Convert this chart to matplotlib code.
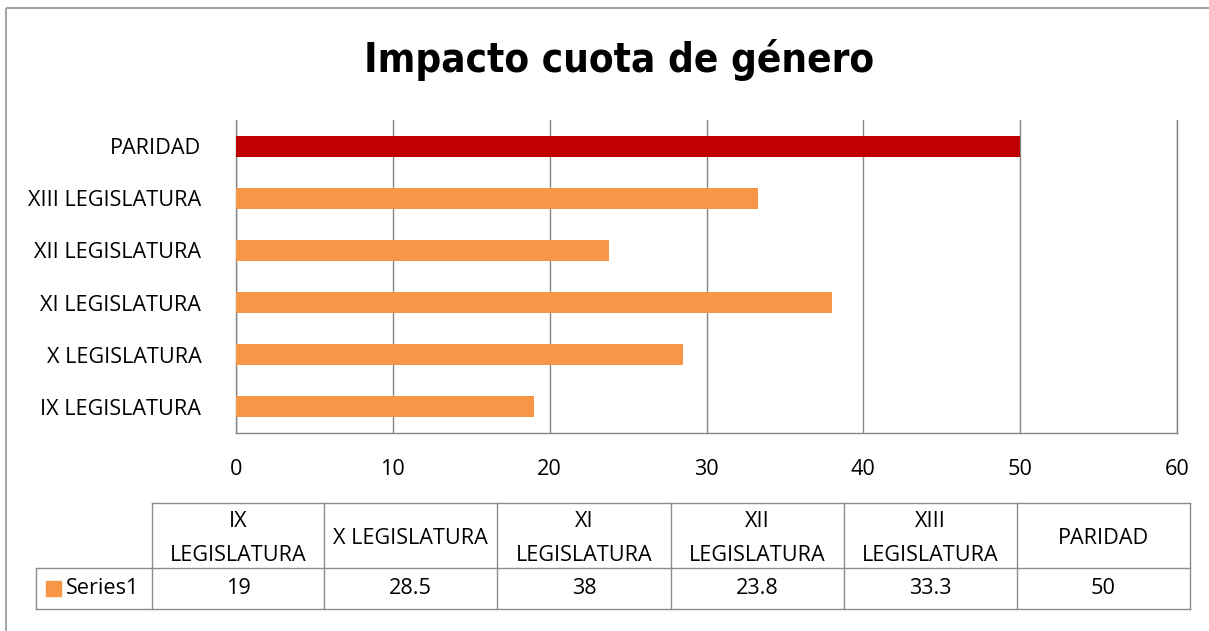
import matplotlib
matplotlib.use("Agg")
import matplotlib.pyplot as plt
from matplotlib import font_manager as fm
from matplotlib.patches import Rectangle

# datos
categorias = ["IX LEGISLATURA", "X LEGISLATURA", "XI LEGISLATURA",
              "XII LEGISLATURA", "XIII LEGISLATURA", "PARIDAD"]
encabezados = ["IX\nLEGISLATURA", "X LEGISLATURA", "XI\nLEGISLATURA",
               "XII\nLEGISLATURA", "XIII\nLEGISLATURA", "PARIDAD"]
valores = [19, 28.5, 38, 23.8, 33.3, 50]
etiquetas_tabla = ["19", "28.5", "38", "23.8", "33.3", "50"]
serie = "Series1"
titulo = "Impacto cuota de género"
x_ticks = [0, 10, 20, 30, 40, 50, 60]

NARANJA = "#F79646"
ROJO = "#C00000"
GRIS = "#868686"
FS = 15.6

plt.rcParams["font.family"] = ["Open Sans", "DejaVu Sans"]


def fuente_titulo():
    # buscar una fuente estrecha en negrita para el título
    for nombre in ["DejaVuSansCondensed-Bold", "LiberationSansNarrow-Bold"]:
        for f in fm.findSystemFonts():
            if f.split("/")[-1].startswith(nombre + "."):
                return fm.FontProperties(fname=f, size=29)
    return fm.FontProperties(family="DejaVu Sans", weight="bold", size=29)


W, H = 1209, 631
fig = plt.figure(figsize=(W / 100, H / 100), dpi=100)

# area del gráfico (en pixeles)
x0, x1, y0, y1 = 236, 1177, 120, 433
ax = fig.add_axes([x0 / W, 1 - y1 / H, (x1 - x0) / W, (y1 - y0) / H])

colores = [NARANJA] * (len(valores) - 1) + [ROJO]
pos = range(len(categorias))
ax.barh(pos, valores, height=0.4, color=colores, zorder=3)
ax.set_xlim(0, 60)
ax.set_ylim(-0.5, len(categorias) - 0.5)
ax.set_xticks(x_ticks)
ax.set_yticks(list(pos))
ax.set_yticklabels(categorias)
ax.tick_params(axis="both", length=0, labelsize=FS, colors="black")
ax.tick_params(axis="y", pad=25)
ax.tick_params(axis="x", pad=19)
ax.grid(axis="x", color=GRIS, linewidth=1, zorder=0)
ax.spines["top"].set_visible(False)
for lado in ["left", "bottom", "right"]:
    ax.spines[lado].set_color(GRIS)
    ax.spines[lado].set_linewidth(1)

# capa en pixeles para título, tabla y borde
capa = fig.add_axes([0, 0, 1, 1])
capa.set_xlim(0, W)
capa.set_ylim(H, 0)
capa.axis("off")

capa.add_patch(Rectangle((6, 8), W, H, fill=False, edgecolor="#A6A6A6", linewidth=1.5))
capa.text(619, 60, titulo, ha="center", va="center", fontproperties=fuente_titulo())

# tabla de datos
cols = [152, 324, 497, 671, 844, 1017, 1190]
lab_x = 36
t_top, t_mid, t_bot = 503, 568, 609
lc = "#8C8C8C"
capa.plot([cols[0], cols[-1]], [t_top, t_top], color=lc, lw=1)
capa.plot([lab_x, cols[-1]], [t_mid, t_mid], color=lc, lw=1)
capa.plot([lab_x, cols[-1]], [t_bot, t_bot], color=lc, lw=1)
capa.plot([lab_x, lab_x], [t_mid, t_bot], color=lc, lw=1)
for c in cols:
    capa.plot([c, c], [t_top, t_bot], color=lc, lw=1)

for i in range(len(encabezados)):
    cx = (cols[i] + cols[i + 1]) / 2
    capa.text(cx, (t_top + t_mid) / 2 + 3, encabezados[i], ha="center", va="center",
              multialignment="center", fontsize=FS, linespacing=1.8)
    capa.text(cx, (t_mid + t_bot) / 2, etiquetas_tabla[i], ha="center", va="center",
              fontsize=FS)

capa.add_patch(Rectangle((46, 581), 15, 15, color=NARANJA))
capa.text(66, (t_mid + t_bot) / 2, serie, ha="left", va="center", fontsize=FS)

fig.savefig("out.png", dpi=100)
